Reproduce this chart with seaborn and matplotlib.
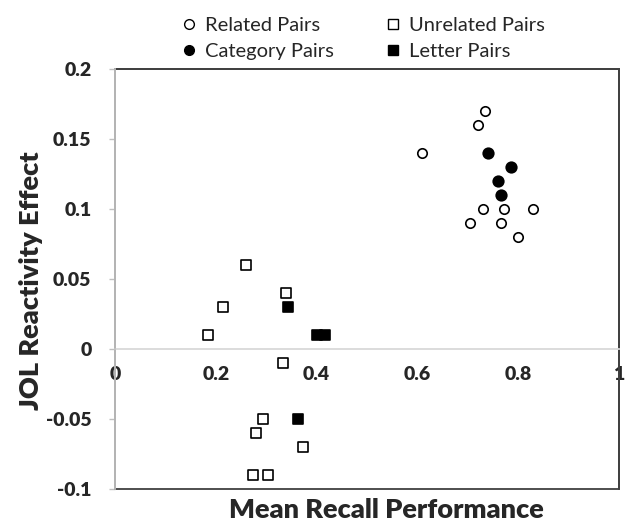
import pandas as pd
import matplotlib.pyplot as plt
import seaborn as sns
from matplotlib.lines import Line2D
from matplotlib.patches import Rectangle

# values
related_x = [0.61, 0.72, 0.735, 0.73, 0.771, 0.83, 0.705, 0.765, 0.80]
related_y = [0.14, 0.16, 0.17, 0.10, 0.10, 0.10, 0.09, 0.09, 0.08]
category_x = [0.74, 0.786, 0.76, 0.765]
category_y = [0.14, 0.13, 0.12, 0.11]
unrelated_x = [0.26, 0.339, 0.214, 0.184, 0.334, 0.294, 0.279, 0.373, 0.274, 0.304]
unrelated_y = [0.06, 0.04, 0.03, 0.01, -0.01, -0.05, -0.06, -0.07, -0.09, -0.09]
letter_x = [0.344, 0.401, 0.417, 0.364]
letter_y = [0.03, 0.01, 0.01, -0.05]

x_ticks = [0, 0.2, 0.4, 0.6, 0.8, 1]
x_labels = ["0", "0.2", "0.4", "0.6", "0.8", "1"]
y_ticks = [-0.1, -0.05, 0, 0.05, 0.1, 0.15, 0.2]
y_labels = ["-0.1", "-0.05", "0", "0.05", "0.1", "0.15", "0.2"]

sns.set_style("white")
plt.rcParams["font.family"] = ["Lato", "DejaVu Sans"]

fig = plt.figure(figsize=(6.26, 5.28), dpi=100)
ax = fig.add_axes([115 / 626, 1 - 489 / 528, 504 / 626, 420 / 528])

groups = [
    ("Related Pairs", related_x, related_y, "o", "white", 46),
    ("Category Pairs", category_x, category_y, "o", "black", 58),
    ("Unrelated Pairs", unrelated_x, unrelated_y, "s", "white", 52),
    ("Letter Pairs", letter_x, letter_y, "s", "black", 52),
]
handles = []
for name, xs, ys, mk, fc, sz in groups:
    df = pd.DataFrame({"x": xs, "y": ys})
    sns.scatterplot(data=df, x="x", y="y", marker=mk, color=fc,
                    edgecolor="black", linewidth=1.2, s=sz, ax=ax, zorder=3)
    handles.append(Line2D([], [], linestyle="none", marker=mk,
                          markerfacecolor=fc, markeredgecolor="black",
                          markeredgewidth=1.0, markersize=7, label=name))

# x axis crosses at y = 0, as in the source chart
ax.spines["bottom"].set_position(("data", 0))
ax.spines["bottom"].set_color("#d9d9d9")
ax.spines["bottom"].set_linewidth(1.3)
ax.spines["left"].set_color("#bfbfbf")
ax.spines["left"].set_linewidth(1.3)
ax.spines["left"].set_zorder(4)
for s in ["top", "right"]:
    ax.spines[s].set_color("#404040")
    ax.spines[s].set_linewidth(1.3)
ax.add_patch(Rectangle((0, 0), 1, 1, transform=ax.transAxes, fill=False,
                       edgecolor="#404040", linewidth=1.3, clip_on=False, zorder=1))

ax.set_xlim(0, 1)
ax.set_ylim(-0.1, 0.2)
ax.set_xticks(x_ticks)
ax.set_xticklabels(x_labels, fontweight="heavy", fontsize=14)
ax.set_yticks(y_ticks)
ax.set_yticklabels(y_labels, fontweight="heavy", fontsize=14)
ax.tick_params(axis="x", length=0, pad=12, bottom=True)
ax.tick_params(axis="y", length=4, width=1, color="#bfbfbf", pad=13, left=True)

ax.set_xlabel("")
ax.set_ylabel("")
fig.text(386 / 626, 1 - 510 / 528, "Mean Recall Performance", ha="center",
         va="center", fontsize=19.5, fontweight="heavy")
fig.text(31 / 626, 1 - 281 / 528, "JOL Reactivity Effect", ha="center",
         va="center", rotation=90, fontsize=19.5, fontweight="heavy")

order = [handles[0], handles[1], handles[2], handles[3]]
fig.legend(handles=order, ncol=2, loc="upper left",
           bbox_to_anchor=(173 / 626, 1 - 9 / 528), frameon=False,
           fontsize=14.5, handlelength=0.8, handletextpad=0.4,
           columnspacing=2.5, labelspacing=0.42, borderaxespad=0)

fig.savefig("out.png", dpi=100)
